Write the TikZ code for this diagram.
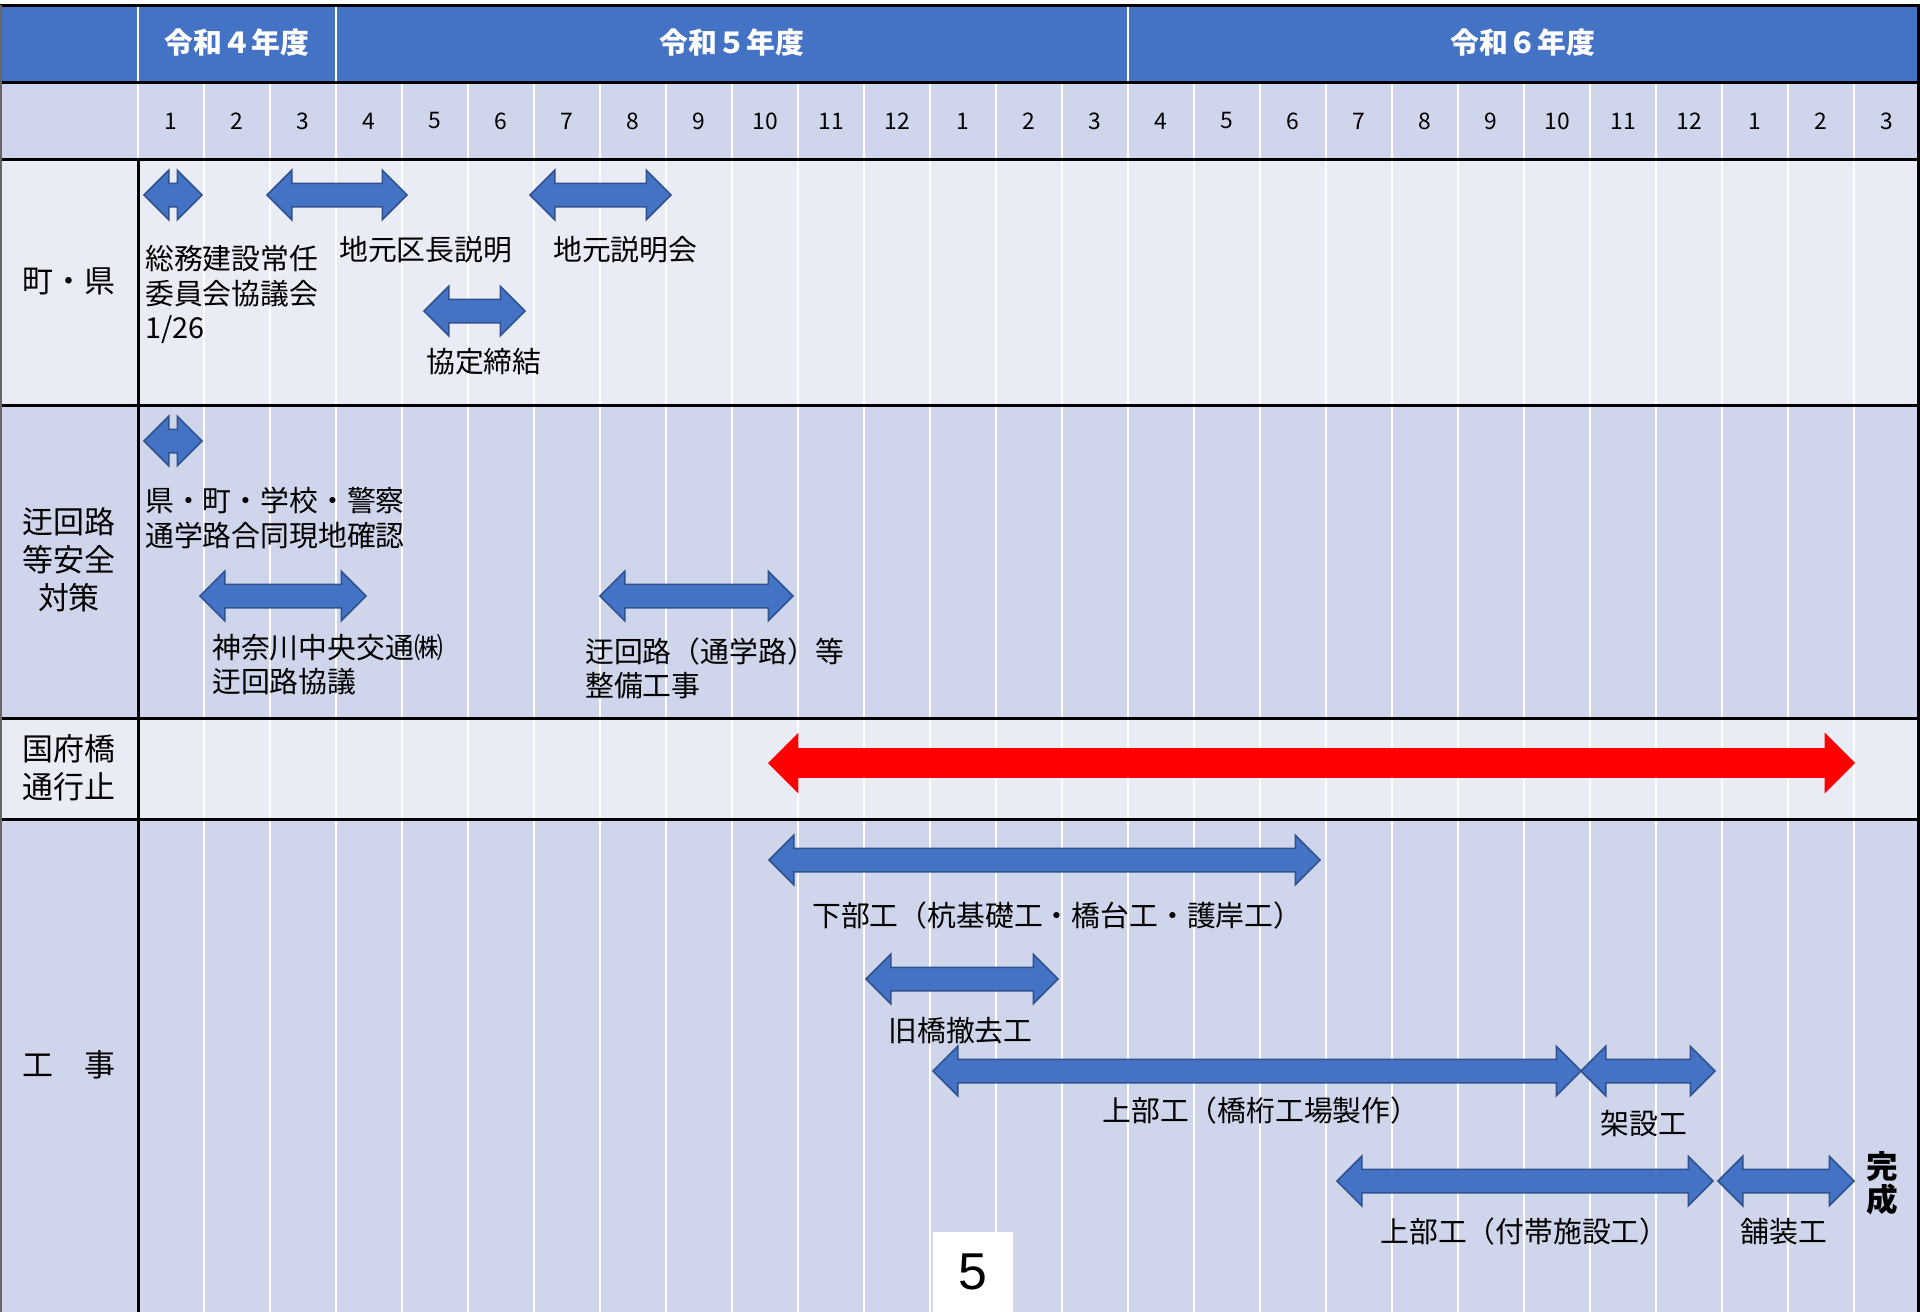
\documentclass[tikz,border=0pt]{standalone}
\usepackage{fontspec}
\setmainfont{Noto Sans CJK JP}
\newfontfamily\pagefont{Liberation Sans}
\usepackage{xcolor}
\usetikzlibrary{shapes.arrows}
\definecolor{hdrblue}{HTML}{4472C4}
\definecolor{rowdark}{HTML}{CFD5EA}
\definecolor{rowlight}{HTML}{E9EBF5}
\definecolor{arrowedge}{HTML}{2F528F}

\begin{document}
\begin{tikzpicture}[x=0.2mm,y=-0.2mm,
      blkarrow/.style={double arrow,draw=arrowedge,fill=hdrblue,line width=0.3mm,
        inner xsep=0pt,inner ysep=2.2mm,double arrow head extend=2.6mm,
        minimum width=9.6mm,minimum height=#1*0.2mm},
      redarrow/.style={double arrow,fill=red,inner xsep=0pt,inner ysep=2.9mm,
        double arrow head extend=3.1mm,minimum width=12mm,minimum height=#1*0.2mm},
      txt/.style={anchor=west,align=left,inner sep=0pt,
        font=\fontsize{16.4}{19.6}\selectfont},
      rowhead/.style={align=center,inner sep=0pt,
        font=\fontsize{17.6}{21.5}\selectfont},
      yearhead/.style={text=white,inner sep=0pt,
        font=\fontsize{16.4}{19.6}\selectfont\bfseries},
      monthlbl/.style={inner sep=0pt,font=\fontsize{13}{15}\selectfont},
      gridw/.style={white,line width=0.4mm},
      gridk/.style={black,line width=0.6mm}]

      \fill[white] (0,0) rectangle (1920,1312);
      \useasboundingbox (0,0) rectangle (1920,1312);

      % rows
      \fill[hdrblue] (0,5) rectangle (1919,82);
      \fill[rowdark] (0,82) rectangle (1919,159);
      \fill[rowlight] (0,159) rectangle (1919,405);
      \fill[rowdark] (0,405) rectangle (1919,718);
      \fill[rowlight] (0,718) rectangle (1919,819);
      \fill[rowdark] (0,819) rectangle (1919,1312);

      % grid
      \foreach \i in {1,...,26}
        \draw[gridw] ({138+66*\i},82) -- ({138+66*\i},1312);
      \draw[gridw] (138,5) -- (138,159);
      \draw[gridw] (336,5) -- (336,82);
      \draw[gridw] (1128,5) -- (1128,82);
      \foreach \y in {5,82,159,405,718,819}
        \draw[gridk] (0,\y) -- (1920,\y);
      \draw[gridk] (138,159) -- (138,1312);
      \draw[gridk] (1918,5) -- (1918,1312);
      \draw[black!60,line width=0.3mm] (1,5) -- (1,1312);

      % header
      \node[yearhead] (r4) at (237,43) {令和４年度};
      \node[yearhead] (r5) at (732,43) {令和５年度};
      \node[yearhead] (r6) at (1523,43) {令和６年度};
      \foreach \i in {0,...,26}{
        \pgfmathtruncatemacro\m{mod(\i,12)+1}
        \node[monthlbl] (m\i) at ({138+66*(\i+0.5)},121) {\m};
      }

      \node[rowhead] (choken) at (69,281) {町・県};
      \node[rowhead] (anzen) at (69,560) {迂回路\\等安全\\対策};
      \node[rowhead] (kokufu) at (69,768) {国府橋\\通行止};
      \node[rowhead] (koji) at (69,1065) {工　事};

      % 町・県
      \node[blkarrow=58] (somu) at (173,195) {};
      \node[blkarrow=140] (kucho) at (337,195) {};
      \node[blkarrow=141] (jimoto) at (600.5,195) {};
      \node[blkarrow=101] (kyotei) at (474.5,311) {};
      \node[txt] (somu-t) at (145,294.5) {総務建設常任\\委員会協議会\\1/26};
      \node[txt] (kucho-t) at (339,250) {地元区長説明};
      \node[txt] (jimoto-t) at (553,250) {地元説明会};
      \node[txt] (kyotei-t) at (426,362) {協定締結};

      % 迂回路等安全対策
      \node[blkarrow=58] (genchi) at (173,441) {};
      \node[blkarrow=166] (kanachu) at (283,596) {};
      \node[blkarrow=193] (seibi) at (696.5,596) {};
      \node[txt] (genchi-t) at (145,518) {県・町・学校・警察\\通学路合同現地確認};
      \node[txt] (kanachu-t) at (212,664.5) {神奈川中央交通㈱\\迂回路協議};
      \node[txt] (seibi-t) at (585,668.5) {迂回路（通学路）等\\整備工事};

      % 国府橋通行止
      \node[redarrow=1087] (tsukodome) at (1311.5,763) {};

      % 工事
      \node[blkarrow=551] (kabu) at (1044.5,860) {};
      \node[blkarrow=192] (tekkyo) at (962,979) {};
      \node[blkarrow=648] (jobu) at (1257,1071) {};
      \node[blkarrow=134] (kasetsu) at (1648,1071) {};
      \node[blkarrow=376] (futai) at (1525,1181) {};
      \node[blkarrow=136] (hoso) at (1786,1181) {};
      \node[txt] (kabu-t) at (812,916) {下部工（杭基礎工・橋台工・護岸工）};
      \node[txt] (tekkyo-t) at (888,1031) {旧橋撤去工};
      \node[txt] (jobu-t) at (1102,1111) {上部工（橋桁工場製作）};
      \node[txt] (kasetsu-t) at (1600,1124) {架設工};
      \node[txt] (futai-t) at (1380,1232) {上部工（付帯施設工）};
      \node[txt] (hoso-t) at (1740,1232) {舗装工};
      \node[align=center,inner sep=0pt,
        font=\fontsize{18}{18.7}\selectfont\bfseries] (kansei) at (1882,1183) {完\\成};

      \node[fill=white,minimum size=16mm,inner sep=0pt,
        font=\pagefont\fontsize{29.5}{30}\selectfont] (page) at (973,1272) {5};
    \end{tikzpicture}
\end{document}
